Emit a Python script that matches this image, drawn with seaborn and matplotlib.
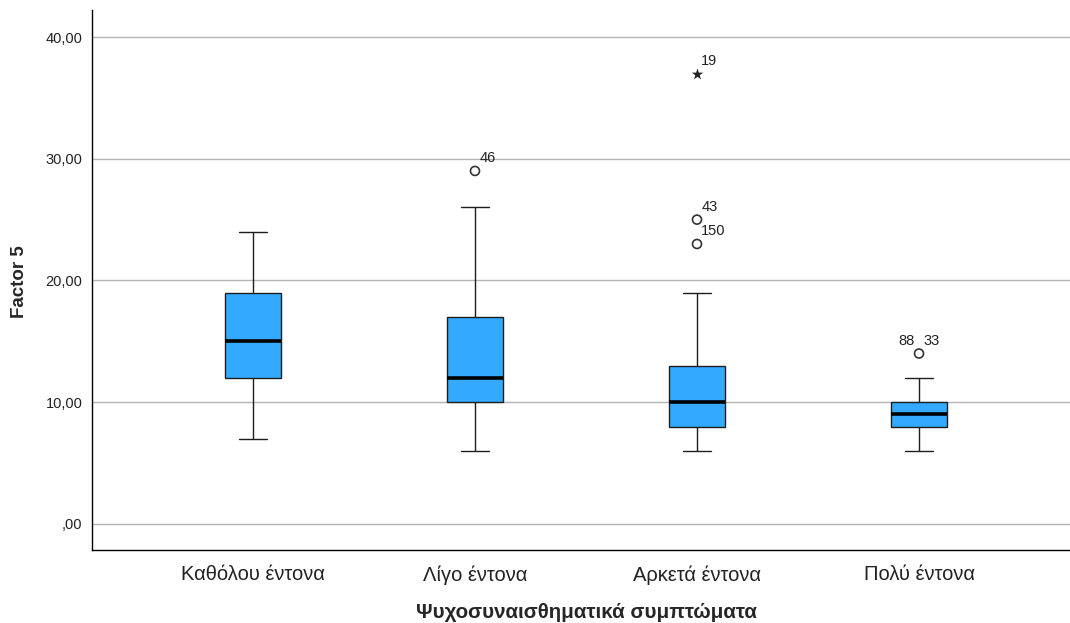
import numpy as np
import pandas as pd
import matplotlib
matplotlib.use("Agg")
import matplotlib.pyplot as plt
import seaborn as sns

categories = ["Καθόλου έντονα", "Λίγο έντονα", "Αρκετά έντονα", "Πολύ έντονα"]
kathołou = [7, 12, 15, 19, 24]
ligo = [6, 10, 10, 12, 12, 17, 17, 26, 29]
arketa = [6, 7, 8, 8, 8, 9, 9, 10, 10, 11, 12, 13, 13, 19, 23, 25, 37]
poly = [6, 7, 8, 8, 8, 9, 9, 9, 10, 10, 12, 14, 14]
group_values = [kathołou, ligo, arketa, poly]

# outlier case labels: (group index, value, label, side)
label_groups = [1, 2, 2, 2, 3, 3]
label_values = [29, 37, 25, 23, 14, 14]
label_texts = ["46", "19", "43", "150", "88", "33"]
label_sides = ["r", "r", "r", "r", "l", "r"]

yticks = [0, 10, 20, 30, 40]
ytick_labels = [",00", "10,00", "20,00", "30,00", "40,00"]

sns.set_style("white")
plt.rcParams["font.family"] = ["Liberation Sans", "DejaVu Sans"]

df = pd.DataFrame({
    "group": np.concatenate([[c] * len(v) for c, v in zip(categories, group_values)]),
    "value": np.concatenate(group_values).astype(float),
})

fig = plt.figure(figsize=(10.70, 6.23), dpi=100)
ax = fig.add_axes([92 / 1070, 1 - 550 / 623, 1 - 92 / 1070, (550 - 10) / 623])

ax.set_axisbelow(True)
for t in yticks:
    ax.axhline(t, color="#b4b4b4", linewidth=1.0, zorder=0)

sns.boxplot(data=df, x="group", y="value", order=categories, width=0.25,
            color="#33aaff", saturation=1, linecolor="#1e1e1e", linewidth=1.0,
            showfliers=False, whis=1.5,
            medianprops=dict(color="black", linewidth=2.6),
            ax=ax)

for i, v in enumerate(group_values):
    arr = np.array(v, dtype=float)
    q1, q3 = np.percentile(arr, [25, 75])
    iqr = q3 - q1
    out = arr[(arr > q3 + 1.5 * iqr) | (arr < q1 - 1.5 * iqr)]
    ext = out[(out > q3 + 3 * iqr) | (out < q1 - 3 * iqr)]
    mild = np.setdiff1d(out, ext)
    if len(mild):
        ax.scatter(np.full(len(mild), i), mild, s=42, marker="o",
                   facecolors="none", edgecolors="#333333", linewidths=1.2, zorder=5)
    if len(ext):
        ax.scatter(np.full(len(ext), i), ext, s=75, marker="*",
                   color="#222222", linewidths=0, zorder=5)

for g, val, txt, side in zip(label_groups, label_values, label_texts, label_sides):
    if side == "r":
        ax.annotate(txt, (g, val), xytext=(3, 9), textcoords="offset points",
                    ha="left", va="center", fontsize=10.5, color="#222222")
    else:
        ax.annotate(txt, (g, val), xytext=(-3, 9), textcoords="offset points",
                    ha="right", va="center", fontsize=10.5, color="#222222")

ax.set_xlim(-0.725, 3.68)
ax.set_ylim(-2.14, 42.22)
ax.set_yticks(yticks)
ax.set_yticklabels(ytick_labels, fontsize=10.5, color="#222222")
ax.tick_params(axis="y", length=0, pad=7)
ax.tick_params(axis="x", length=0, pad=11, labelsize=14.5)
for lbl in ax.get_xticklabels():
    lbl.set_color("#222222")

ax.set_xlabel("Ψυχοσυναισθηματικά συμπτώματα", fontsize=14.8, fontweight="bold")
ax.set_ylabel("Factor 5", fontsize=13.5, fontweight="bold")
ax.xaxis.set_label_coords((586 - 92) / 978.0, (550 - 613) / 540.0)
ax.xaxis.label.set_va("center")
ax.yaxis.set_label_coords((20 - 92) / 978.0, (550 - 282) / 540.0)
ax.yaxis.label.set_va("center")

for s in ["top", "right"]:
    ax.spines[s].set_visible(False)
for s in ["left", "bottom"]:
    ax.spines[s].set_color("black")
    ax.spines[s].set_linewidth(1.0)

fig.savefig("out.png", dpi=100)
